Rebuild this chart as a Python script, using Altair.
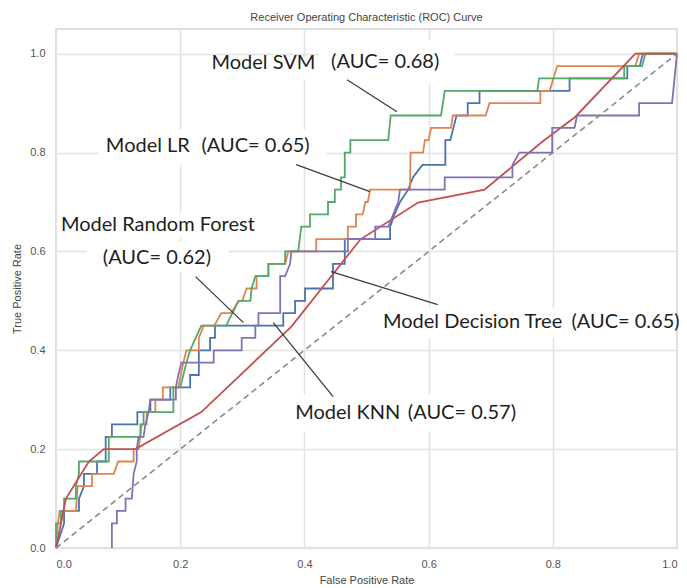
import altair as alt
import pandas as pd

# ---------------- data ----------------
model_names = ["Decision Tree", "LR", "SVM", "Random Forest", "KNN"]
model_colors = ["#4C72B0", "#DD8452", "#55A868", "#C44E52", "#8172B3"]

dt_points = [(0, 0), (0.013, 0.05), (0.013, 0.075), (0.037, 0.075), (0.037, 0.1), (0.045, 0.125),
             (0.045, 0.15), (0.066, 0.15), (0.066, 0.175), (0.08, 0.175), (0.08, 0.225), (0.09, 0.225),
             (0.09, 0.25), (0.131, 0.25), (0.131, 0.275), (0.152, 0.275), (0.152, 0.3), (0.184, 0.3),
             (0.184, 0.325), (0.216, 0.325), (0.216, 0.35), (0.23, 0.35), (0.23, 0.4), (0.248, 0.4),
             (0.248, 0.425), (0.256, 0.425), (0.256, 0.45), (0.366, 0.45), (0.366, 0.475), (0.385, 0.475),
             (0.385, 0.5), (0.401, 0.5), (0.401, 0.525), (0.446, 0.525), (0.446, 0.575), (0.465, 0.575),
             (0.465, 0.625), (0.538, 0.625), (0.538, 0.65), (0.545, 0.675), (0.554, 0.7), (0.567, 0.725),
             (0.575, 0.75), (0.59, 0.775), (0.627, 0.775), (0.627, 0.825), (0.635, 0.825), (0.645, 0.875),
             (0.663, 0.875), (0.663, 0.9), (0.682, 0.9), (0.682, 0.925), (0.827, 0.925), (0.827, 0.95),
             (0.92, 0.95), (0.92, 0.975), (0.94, 0.975), (0.945, 1.0), (1.0, 1.0)]

lr_points = [(0, 0), (0.003, 0.05), (0.006, 0.075), (0.032, 0.075), (0.035, 0.125), (0.058, 0.125),
             (0.058, 0.15), (0.093, 0.15), (0.1, 0.175), (0.125, 0.175), (0.125, 0.2), (0.133, 0.2),
             (0.138, 0.25), (0.146, 0.25), (0.146, 0.275), (0.16, 0.275), (0.16, 0.3), (0.172, 0.3),
             (0.172, 0.325), (0.197, 0.325), (0.205, 0.375), (0.21, 0.4), (0.23, 0.4), (0.23, 0.425),
             (0.238, 0.45), (0.255, 0.45), (0.266, 0.475), (0.282, 0.475), (0.294, 0.5), (0.3, 0.5),
             (0.307, 0.525), (0.323, 0.525), (0.323, 0.55), (0.342, 0.55), (0.342, 0.575), (0.369, 0.575),
             (0.374, 0.6), (0.419, 0.6), (0.419, 0.625), (0.47, 0.625), (0.47, 0.65), (0.483, 0.65),
             (0.483, 0.675), (0.494, 0.675), (0.498, 0.7), (0.502, 0.7), (0.506, 0.725), (0.57, 0.725),
             (0.571, 0.8), (0.591, 0.8), (0.594, 0.825), (0.6, 0.825), (0.604, 0.85), (0.636, 0.85),
             (0.639, 0.875), (0.692, 0.875), (0.698, 0.9), (0.78, 0.9), (0.78, 0.925), (0.795, 0.925),
             (0.807, 0.975), (0.933, 0.975), (0.939, 1.0), (1.0, 1.0)]

svm_points = [(0, 0), (0, 0.05), (0.008, 0.05), (0.008, 0.075), (0.013, 0.075), (0.013, 0.1),
              (0.032, 0.1), (0.032, 0.125), (0.037, 0.15), (0.037, 0.175), (0.085, 0.175), (0.085, 0.225),
              (0.136, 0.225), (0.136, 0.25), (0.141, 0.25), (0.141, 0.275), (0.189, 0.275), (0.189, 0.325),
              (0.2, 0.325), (0.205, 0.35), (0.21, 0.375), (0.216, 0.4), (0.225, 0.425), (0.234, 0.45),
              (0.274, 0.45), (0.294, 0.5), (0.313, 0.5), (0.315, 0.525), (0.321, 0.55), (0.342, 0.55),
              (0.342, 0.575), (0.369, 0.575), (0.369, 0.6), (0.39, 0.6), (0.395, 0.65), (0.409, 0.65),
              (0.409, 0.675), (0.438, 0.675), (0.438, 0.7), (0.449, 0.7), (0.449, 0.725), (0.459, 0.725),
              (0.459, 0.75), (0.465, 0.75), (0.465, 0.8), (0.474, 0.8), (0.474, 0.825), (0.535, 0.825),
              (0.539, 0.875), (0.62, 0.875), (0.626, 0.925), (0.775, 0.925), (0.778, 0.95), (0.915, 0.95),
              (0.915, 0.975), (0.944, 0.975), (0.949, 1.0), (1.0, 1.0)]

rf_points = [(0, 0), (0.016, 0.1), (0.053, 0.175), (0.077, 0.2), (0.128, 0.2), (0.234, 0.275),
             (0.379, 0.448), (0.449, 0.559), (0.49, 0.624), (0.583, 0.699), (0.69, 0.725),
             (0.783, 0.822), (0.836, 0.872), (0.933, 1.0), (1.0, 1.0)]

knn_points = [(0.09, 0), (0.09, 0.05), (0.098, 0.05), (0.098, 0.075), (0.112, 0.075), (0.112, 0.1),
              (0.122, 0.1), (0.125, 0.15), (0.13, 0.175), (0.13, 0.2), (0.133, 0.225), (0.141, 0.225),
              (0.144, 0.25), (0.149, 0.275), (0.152, 0.3), (0.193, 0.3), (0.193, 0.325), (0.197, 0.35),
              (0.202, 0.375), (0.254, 0.375), (0.254, 0.4), (0.299, 0.4), (0.299, 0.425), (0.321, 0.425),
              (0.321, 0.45), (0.326, 0.45), (0.326, 0.475), (0.361, 0.475), (0.361, 0.55), (0.369, 0.55),
              (0.377, 0.575), (0.379, 0.6), (0.47, 0.6), (0.47, 0.625), (0.514, 0.625), (0.514, 0.65),
              (0.535, 0.65), (0.543, 0.675), (0.551, 0.7), (0.554, 0.725), (0.626, 0.725), (0.626, 0.75),
              (0.735, 0.75), (0.735, 0.775), (0.746, 0.8), (0.799, 0.8), (0.799, 0.85), (0.835, 0.85),
              (0.839, 0.875), (0.939, 0.875), (0.939, 0.9), (0.992, 0.9), (1.0, 1.0)]

curve_points = [dt_points, lr_points, svm_points, rf_points, knn_points]

chance_fpr = [0, 1]
chance_tpr = [0, 1]

tick_values = [0.0, 0.2, 0.4, 0.6, 0.8, 1.0]

# annotation texts (left edge / vertical centre, data coordinates)
ann_text = ["Model SVM", "(AUC= 0.68)", "Model LR", "(AUC= 0.65)", "Model Random Forest",
            "(AUC= 0.62)", "Model Decision Tree", "(AUC= 0.65)", "Model KNN", "(AUC= 0.57)"]
ann_fpr = [0.2504, 0.443, 0.0803, 0.2343, 0.008, 0.0754, 0.5265, 0.83, 0.3852, 0.5666]
ann_tpr = [0.9818, 0.9838, 0.814, 0.814, 0.6542, 0.5875, 0.458, 0.458, 0.274, 0.274]

# pointer lines
ptr_fpr = [0.4687, 0.3868, 0.2247, 0.443, 0.3499]
ptr_tpr = [0.9474, 0.7755, 0.549, 0.5592, 0.456]
ptr_fpr2 = [0.549, 0.5056, 0.3018, 0.6148, 0.4462]
ptr_tpr2 = [0.8827, 0.7209, 0.456, 0.4924, 0.3064]

# white label backgrounds
box_fpr = [0.4238, 0.2408, 0.069, 0.005, 0.0498, 0.5152, 0.374]
box_fpr2 = [0.642, 0.4238, 0.435, 0.329, 0.2777, 0.998, 0.743]
box_tpr = [0.9393, 0.9474, 0.7755, 0.63, 0.5592, 0.4257, 0.2356]
box_tpr2 = [1.0283, 0.9939, 0.8463, 0.6785, 0.6198, 0.4863, 0.3104]

# ---------------- chart ----------------
x_scale = alt.Scale(domain=[0, 1], nice=False, zero=False)
y_scale = alt.Scale(domain=[0, 1.05], nice=False, zero=False)
x_axis = alt.Axis(values=tick_values, format=".1f", title="False Positive Rate",
                  labelPadding=10, titlePadding=5)
y_axis = alt.Axis(values=tick_values, format=".1f", title="True Positive Rate",
                  labelPadding=11, titlePadding=7)
color_scale = alt.Scale(domain=model_names, range=model_colors)


def xy(fx="fpr", fy="tpr"):
    return dict(x=alt.X(f"{fx}:Q", scale=x_scale, axis=x_axis),
                y=alt.Y(f"{fy}:Q", scale=y_scale, axis=y_axis))


box_df = pd.DataFrame({"fpr": box_fpr, "fpr2": box_fpr2, "tpr": box_tpr, "tpr2": box_tpr2})
boxes = alt.Chart(box_df).mark_rect(fill="white").encode(
    **xy(), x2="fpr2:Q", y2="tpr2:Q")

layers = [boxes]
for name, pts in zip(model_names, curve_points):
    cdf = pd.DataFrame({"fpr": [p[0] for p in pts], "tpr": [p[1] for p in pts],
                        "step": list(range(len(pts))), "model": name})
    layers.append(
        alt.Chart(cdf).mark_line(strokeWidth=1.8, interpolate="linear").encode(
            **xy(), order="step:Q",
            color=alt.Color("model:N", scale=color_scale, legend=None))
    )

chance_df = pd.DataFrame({"fpr": chance_fpr, "tpr": chance_tpr})
layers.append(alt.Chart(chance_df).mark_line(color="#8a8a8a", strokeDash=[6, 4], strokeWidth=1.6)
              .encode(**xy()))

ptr_df = pd.DataFrame({"fpr": ptr_fpr, "tpr": ptr_tpr, "fpr2": ptr_fpr2, "tpr2": ptr_tpr2})
layers.append(alt.Chart(ptr_df).mark_rule(color="#3d3d3d", strokeWidth=1.3)
              .encode(**xy(), x2="fpr2:Q", y2="tpr2:Q"))

ann_df = pd.DataFrame({"fpr": ann_fpr, "tpr": ann_tpr, "label": ann_text})
layers.append(alt.Chart(ann_df).mark_text(align="left", baseline="middle", font="Lato",
                                          fontSize=20, color="#1e1e1e")
              .encode(**xy(), text="label:N"))

chart = alt.layer(*layers).properties(
    width=621, height=519,
    title=alt.TitleParams("Receiver Operating Characteristic (ROC) Curve", anchor="middle",
                          font="Liberation Sans", fontSize=11, fontWeight="normal",
                          color="#444444", offset=6),
    autosize=alt.AutoSizeParams(type="none"),
    padding={"left": 48, "top": 21, "right": 2, "bottom": 40},
).configure_axis(
    grid=True, gridColor="#e2e2e2", gridWidth=1.5, domain=False, ticks=False,
    labelFont="Liberation Sans", labelFontSize=11, labelColor="#555555",
    titleFont="Liberation Sans", titleFontSize=11, titleColor="#444444", titleFontWeight="normal",
).configure_view(stroke="#d4d4d4", strokeWidth=1.5)

chart.save("out.html", embed_options={"renderer": "svg", "actions": False})
